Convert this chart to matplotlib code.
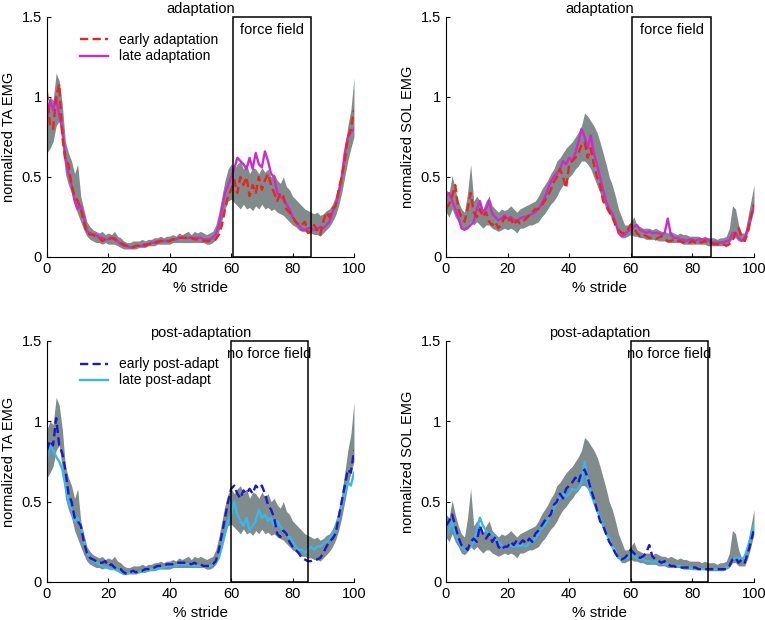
import numpy as np
import matplotlib
matplotlib.use("Agg")
import matplotlib.pyplot as plt
from matplotlib.patches import Rectangle

plt.rcParams["font.family"] = ["Liberation Sans", "DejaVu Sans"]

stride = np.arange(0, 101)

# baseline mean +/- sd band (same in adaptation and post-adaptation panels)
ta_lo = [0.65, 0.68, 0.72, 0.82, 0.85, 0.7, 0.52, 0.45, 0.4, 0.32,
         0.27, 0.22, 0.17, 0.13, 0.11, 0.1, 0.09, 0.09, 0.08, 0.09,
         0.08, 0.08, 0.08, 0.07, 0.06, 0.05, 0.05, 0.05, 0.05, 0.05,
         0.06, 0.06, 0.06, 0.07, 0.07, 0.07, 0.08, 0.08, 0.08, 0.08,
         0.08, 0.09, 0.09, 0.09, 0.09, 0.09, 0.09, 0.09, 0.09, 0.09,
         0.09, 0.09, 0.08, 0.08, 0.09, 0.11, 0.16, 0.23, 0.3, 0.35,
         0.36, 0.34, 0.32, 0.3, 0.33, 0.3, 0.31, 0.29, 0.32, 0.3,
         0.33, 0.3, 0.31, 0.29, 0.3, 0.28, 0.27, 0.26, 0.24, 0.22,
         0.2, 0.19, 0.17, 0.16, 0.16, 0.15, 0.15, 0.14, 0.14, 0.13,
         0.15, 0.17, 0.19, 0.22, 0.26, 0.32, 0.4, 0.5, 0.6, 0.68, 0.75]
ta_hi = [0.95, 1.0, 0.98, 1.15, 1.1, 0.95, 0.72, 0.65, 0.6, 0.52,
         0.58, 0.38, 0.3, 0.22, 0.19, 0.17, 0.16, 0.15, 0.16, 0.14,
         0.15, 0.14, 0.16, 0.13, 0.12, 0.1, 0.09, 0.09, 0.1, 0.1,
         0.1, 0.11, 0.1, 0.11, 0.11, 0.12, 0.12, 0.13, 0.12, 0.13,
         0.13, 0.14, 0.13, 0.15, 0.14, 0.15, 0.16, 0.14, 0.16, 0.15,
         0.16, 0.15, 0.14, 0.15, 0.16, 0.2, 0.28, 0.38, 0.48, 0.55,
         0.58, 0.55, 0.58, 0.6, 0.55, 0.58, 0.52, 0.56, 0.55, 0.52,
         0.56, 0.53, 0.55, 0.5, 0.52, 0.48, 0.46, 0.5, 0.44, 0.42,
         0.38, 0.36, 0.34, 0.32, 0.3, 0.29, 0.28, 0.27, 0.28, 0.26,
         0.27, 0.29, 0.3, 0.33, 0.38, 0.45, 0.55, 0.68, 0.82, 0.92, 1.12]
sol_lo = [0.28, 0.25, 0.3, 0.25, 0.22, 0.18, 0.17, 0.19, 0.22, 0.2,
          0.22, 0.2, 0.18, 0.2, 0.2, 0.18, 0.17, 0.16, 0.17, 0.18,
          0.17, 0.18, 0.17, 0.15, 0.18, 0.18, 0.19, 0.2, 0.2, 0.21,
          0.22, 0.25, 0.27, 0.3, 0.33, 0.35, 0.38, 0.42, 0.45, 0.47,
          0.5, 0.52, 0.55, 0.57, 0.6, 0.6, 0.58, 0.55, 0.5, 0.45,
          0.4, 0.35, 0.3, 0.27, 0.23, 0.2, 0.15, 0.12, 0.12, 0.13,
          0.14, 0.13, 0.13, 0.12, 0.12, 0.11, 0.11, 0.11, 0.11, 0.1,
          0.1, 0.1, 0.09, 0.09, 0.09, 0.09, 0.09, 0.08, 0.08, 0.08,
          0.08, 0.08, 0.08, 0.08, 0.08, 0.07, 0.07, 0.07, 0.07, 0.07,
          0.07, 0.08, 0.09, 0.12, 0.12, 0.1, 0.1, 0.1, 0.15, 0.22, 0.3]
sol_hi = [0.42, 0.4, 0.51, 0.42, 0.35, 0.3, 0.28, 0.4, 0.58, 0.35,
          0.38, 0.35, 0.3, 0.35, 0.38, 0.32, 0.3, 0.28, 0.3, 0.29,
          0.3, 0.32, 0.3, 0.28, 0.3, 0.31, 0.32, 0.33, 0.34, 0.35,
          0.38, 0.42, 0.45, 0.48, 0.52, 0.55, 0.6, 0.62, 0.65, 0.68,
          0.7, 0.72, 0.75, 0.78, 0.82, 0.9, 0.88, 0.85, 0.82, 0.78,
          0.72, 0.65, 0.58, 0.5, 0.45, 0.38, 0.3, 0.25, 0.2, 0.2,
          0.22, 0.25, 0.2, 0.19, 0.18, 0.18, 0.18, 0.17, 0.18, 0.17,
          0.16, 0.16, 0.15, 0.16, 0.15, 0.14, 0.15, 0.14, 0.14, 0.13,
          0.13, 0.13, 0.13, 0.12, 0.13, 0.12, 0.12, 0.12, 0.11, 0.12,
          0.12, 0.13, 0.18, 0.32, 0.3, 0.2, 0.15, 0.15, 0.25, 0.35, 0.45]

# adaptation
ta_early = [1.03, 0.82, 0.8, 1.0, 1.08, 0.75, 0.6, 0.58, 0.45, 0.38,
            0.35, 0.3, 0.22, 0.15, 0.14, 0.14, 0.12, 0.12, 0.1, 0.11,
            0.11, 0.12, 0.11, 0.1, 0.09, 0.08, 0.07, 0.06, 0.06, 0.07,
            0.07, 0.08, 0.07, 0.08, 0.08, 0.09, 0.09, 0.1, 0.1, 0.1,
            0.1, 0.11, 0.11, 0.12, 0.12, 0.12, 0.11, 0.12, 0.11, 0.11,
            0.11, 0.1, 0.1, 0.1, 0.1, 0.11, 0.14, 0.2, 0.3, 0.38,
            0.42, 0.48, 0.4, 0.5, 0.45, 0.5, 0.38, 0.45, 0.4, 0.5,
            0.42, 0.48, 0.52, 0.45, 0.4, 0.35, 0.4, 0.38, 0.3, 0.28,
            0.25, 0.22, 0.2, 0.2, 0.22, 0.15, 0.16, 0.2, 0.17, 0.14,
            0.22, 0.28, 0.25, 0.3, 0.32, 0.42, 0.5, 0.6, 0.75, 0.8, 0.92]
ta_late = [0.85, 0.98, 0.92, 1.0, 0.88, 0.8, 0.62, 0.52, 0.45, 0.35,
           0.3, 0.32, 0.25, 0.16, 0.15, 0.14, 0.14, 0.12, 0.12, 0.11,
           0.11, 0.12, 0.12, 0.1, 0.08, 0.07, 0.07, 0.06, 0.06, 0.07,
           0.07, 0.07, 0.08, 0.08, 0.09, 0.09, 0.1, 0.1, 0.1, 0.1,
           0.1, 0.11, 0.11, 0.12, 0.12, 0.12, 0.12, 0.12, 0.12, 0.12,
           0.12, 0.11, 0.11, 0.11, 0.12, 0.14, 0.2, 0.3, 0.4, 0.45,
           0.5, 0.55, 0.62, 0.6, 0.58, 0.55, 0.62, 0.55, 0.65, 0.58,
           0.56, 0.66, 0.6, 0.52, 0.5, 0.4, 0.38, 0.36, 0.33, 0.3,
           0.25, 0.22, 0.2, 0.17, 0.17, 0.18, 0.18, 0.17, 0.17, 0.19,
           0.18, 0.2, 0.22, 0.28, 0.32, 0.4, 0.5, 0.65, 0.75, 0.78, 0.8]
sol_early = [0.3, 0.33, 0.38, 0.45, 0.3, 0.25, 0.22, 0.3, 0.4, 0.28,
             0.25, 0.3, 0.25, 0.28, 0.22, 0.2, 0.22, 0.18, 0.2, 0.25,
             0.22, 0.24, 0.2, 0.23, 0.21, 0.22, 0.24, 0.26, 0.28, 0.3,
             0.3, 0.32, 0.35, 0.38, 0.42, 0.47, 0.5, 0.55, 0.5, 0.43,
             0.58, 0.6, 0.62, 0.65, 0.7, 0.72, 0.62, 0.68, 0.58, 0.5,
             0.45, 0.35, 0.32, 0.28, 0.25, 0.2, 0.17, 0.15, 0.15, 0.17,
             0.2, 0.18, 0.15, 0.13, 0.14, 0.13, 0.12, 0.12, 0.11, 0.12,
             0.13, 0.11, 0.1, 0.1, 0.11, 0.1, 0.1, 0.09, 0.1, 0.09,
             0.1, 0.09, 0.1, 0.09, 0.1, 0.09, 0.09, 0.08, 0.08, 0.08,
             0.08, 0.07, 0.08, 0.1, 0.15, 0.18, 0.12, 0.1, 0.15, 0.25, 0.33]
sol_late = [0.38, 0.4, 0.35, 0.3, 0.25, 0.18, 0.17, 0.18, 0.2, 0.22,
            0.3, 0.35, 0.28, 0.3, 0.35, 0.27, 0.25, 0.23, 0.24, 0.26,
            0.24, 0.25, 0.23, 0.22, 0.24, 0.25, 0.25, 0.26, 0.27, 0.28,
            0.3, 0.33, 0.37, 0.42, 0.47, 0.5, 0.52, 0.55, 0.6, 0.58,
            0.62, 0.6, 0.65, 0.72, 0.8, 0.75, 0.68, 0.76, 0.65, 0.58,
            0.5, 0.42, 0.35, 0.3, 0.27, 0.22, 0.15, 0.13, 0.14, 0.16,
            0.17, 0.19, 0.2, 0.17, 0.16, 0.15, 0.16, 0.15, 0.15, 0.15,
            0.14, 0.15, 0.24, 0.14, 0.12, 0.12, 0.11, 0.11, 0.1, 0.11,
            0.11, 0.1, 0.11, 0.11, 0.11, 0.11, 0.09, 0.09, 0.09, 0.09,
            0.09, 0.1, 0.1, 0.15, 0.15, 0.12, 0.1, 0.12, 0.18, 0.25, 0.32]

# post-adaptation
ta_post_early = [0.82, 0.88, 0.85, 1.02, 0.85, 0.8, 0.7, 0.55, 0.5, 0.4,
                 0.38, 0.35, 0.25, 0.18, 0.15, 0.14, 0.13, 0.12, 0.12, 0.13,
                 0.1, 0.11, 0.09, 0.08, 0.08, 0.06, 0.05, 0.06, 0.07, 0.06,
                 0.07, 0.07, 0.08, 0.08, 0.09, 0.09, 0.1, 0.1, 0.1, 0.11,
                 0.11, 0.11, 0.12, 0.12, 0.12, 0.12, 0.12, 0.11, 0.12, 0.11,
                 0.11, 0.1, 0.1, 0.1, 0.11, 0.13, 0.2, 0.3, 0.4, 0.5,
                 0.58, 0.6, 0.55, 0.52, 0.57, 0.55, 0.58, 0.55, 0.6, 0.58,
                 0.6, 0.55, 0.48, 0.45, 0.4, 0.3, 0.28, 0.32, 0.3, 0.25,
                 0.22, 0.2, 0.18, 0.15, 0.14, 0.13, 0.13, 0.14, 0.14, 0.15,
                 0.18, 0.22, 0.25, 0.27, 0.3, 0.4, 0.5, 0.6, 0.7, 0.68, 0.82]
ta_post_late = [0.75, 0.85, 0.82, 0.78, 0.75, 0.7, 0.6, 0.5, 0.45, 0.38,
                0.4, 0.35, 0.25, 0.18, 0.15, 0.13, 0.12, 0.11, 0.1, 0.09,
                0.09, 0.08, 0.08, 0.07, 0.06, 0.05, 0.05, 0.06, 0.06, 0.06,
                0.06, 0.07, 0.07, 0.07, 0.08, 0.08, 0.08, 0.09, 0.09, 0.1,
                0.1, 0.1, 0.1, 0.11, 0.11, 0.11, 0.11, 0.1, 0.1, 0.1,
                0.1, 0.1, 0.1, 0.1, 0.11, 0.12, 0.15, 0.22, 0.3, 0.38,
                0.42, 0.5, 0.42, 0.38, 0.35, 0.4, 0.32, 0.35, 0.38, 0.45,
                0.4, 0.42, 0.38, 0.4, 0.35, 0.38, 0.35, 0.32, 0.3, 0.28,
                0.25, 0.22, 0.2, 0.2, 0.18, 0.2, 0.22, 0.2, 0.22, 0.22,
                0.24, 0.25, 0.27, 0.3, 0.33, 0.4, 0.48, 0.55, 0.62, 0.6, 0.68]
sol_post_early = [0.35, 0.38, 0.42, 0.35, 0.28, 0.23, 0.22, 0.2, 0.25, 0.27,
                  0.25, 0.35, 0.3, 0.27, 0.3, 0.25, 0.28, 0.22, 0.2, 0.22,
                  0.22, 0.25, 0.23, 0.26, 0.24, 0.26, 0.24, 0.27, 0.25, 0.3,
                  0.32, 0.35, 0.38, 0.4, 0.42, 0.48, 0.5, 0.55, 0.52, 0.58,
                  0.6, 0.62, 0.65, 0.62, 0.68, 0.7, 0.65, 0.58, 0.52, 0.45,
                  0.38, 0.35, 0.3, 0.25, 0.22, 0.18, 0.15, 0.14, 0.15, 0.17,
                  0.2, 0.18, 0.16, 0.15, 0.16, 0.18, 0.23, 0.16, 0.14, 0.13,
                  0.12, 0.13, 0.11, 0.1, 0.1, 0.09, 0.09, 0.09, 0.09, 0.09,
                  0.09, 0.09, 0.08, 0.08, 0.08, 0.08, 0.08, 0.08, 0.08, 0.08,
                  0.08, 0.08, 0.1, 0.14, 0.15, 0.12, 0.14, 0.12, 0.18, 0.25, 0.33]
sol_post_late = [0.28, 0.32, 0.38, 0.3, 0.25, 0.22, 0.2, 0.2, 0.22, 0.25,
                 0.32, 0.4, 0.35, 0.32, 0.3, 0.3, 0.27, 0.25, 0.23, 0.22,
                 0.22, 0.23, 0.22, 0.23, 0.22, 0.23, 0.22, 0.24, 0.25, 0.27,
                 0.3, 0.33, 0.35, 0.38, 0.42, 0.45, 0.5, 0.52, 0.55, 0.53,
                 0.55, 0.58, 0.57, 0.58, 0.62, 0.75, 0.62, 0.55, 0.5, 0.45,
                 0.4, 0.35, 0.3, 0.27, 0.22, 0.18, 0.15, 0.14, 0.15, 0.15,
                 0.17, 0.16, 0.15, 0.14, 0.14, 0.13, 0.13, 0.12, 0.13, 0.12,
                 0.12, 0.11, 0.11, 0.1, 0.1, 0.1, 0.1, 0.09, 0.09, 0.09,
                 0.08, 0.08, 0.08, 0.08, 0.08, 0.08, 0.08, 0.08, 0.08, 0.08,
                 0.08, 0.09, 0.1, 0.14, 0.15, 0.15, 0.14, 0.16, 0.22, 0.28, 0.36]

GREY = "#808b8b"
RED = "#e8261e"
MAGENTA = "#cc2ccc"
BLUE = "#1a1acc"
LIGHTBLUE = "#3bb6e8"


def draw_panel(ax, lo, hi, early, late, c_early, c_late, lab_early, lab_late,
               title, ylabel, box, box_text, legend=False):
    ax.fill_between(stride, lo, hi, color=GREY, linewidth=0)
    ax.plot(stride, late, color=c_late, lw=1.7, label=lab_late)
    ax.plot(stride, early, color=c_early, lw=1.7, ls=(0, (3.5, 1.8)), label=lab_early)
    ax.add_patch(Rectangle((box[0], 0), box[1] - box[0], 1.5, fill=False,
                           edgecolor="black", lw=1.1, clip_on=False, zorder=5))
    ax.text((box[0] + box[1]) / 2, 1.46, box_text, ha="center", va="top", fontsize=10.5)
    ax.set_xlim(0, 100)
    ax.set_ylim(0, 1.5)
    ax.set_xticks([0, 20, 40, 60, 80, 100])
    ax.set_yticks([0, 0.5, 1, 1.5])
    ax.set_yticklabels(["0", "0.5", "1", "1.5"])
    ax.spines["top"].set_visible(False)
    ax.spines["right"].set_visible(False)
    ax.tick_params(direction="in", length=3, labelsize=10.5)
    ax.set_title(title, fontsize=10.5, pad=3)
    ax.set_xlabel("% stride", fontsize=11, labelpad=4)
    ax.set_ylabel(ylabel, fontsize=10.5, labelpad=4)
    if legend:
        h, l = ax.get_legend_handles_labels()
        ax.legend(h[::-1], l[::-1], loc="upper left", bbox_to_anchor=(0.09, 0.955),
                  frameon=False, fontsize=10, handlelength=2.0, handletextpad=0.8,
                  labelspacing=0.15, borderaxespad=0.0)


fig = plt.figure(figsize=(7.65, 6.2), dpi=100)
ax1 = fig.add_axes([0.0614, 0.5855, 0.4013, 0.3871])
ax2 = fig.add_axes([0.5830, 0.5855, 0.4026, 0.3871])
ax3 = fig.add_axes([0.0614, 0.0613, 0.4013, 0.3887])
ax4 = fig.add_axes([0.5830, 0.0613, 0.4026, 0.3887])

draw_panel(ax1, ta_lo, ta_hi, ta_early, ta_late, RED, MAGENTA,
           "early adaptation", "late adaptation", "adaptation",
           "normalized TA EMG", (60.5, 86), "force field", legend=True)
draw_panel(ax2, sol_lo, sol_hi, sol_early, sol_late, RED, MAGENTA,
           "early adaptation", "late adaptation", "adaptation",
           "normalized SOL EMG", (60.5, 86), "force field")
draw_panel(ax3, ta_lo, ta_hi, ta_post_early, ta_post_late, BLUE, LIGHTBLUE,
           "early post-adapt", "late post-adapt", "post-adaptation",
           "normalized TA EMG", (60, 85), "no force field", legend=True)
draw_panel(ax4, sol_lo, sol_hi, sol_post_early, sol_post_late, BLUE, LIGHTBLUE,
           "early post-adapt", "late post-adapt", "post-adaptation",
           "normalized SOL EMG", (60, 85), "no force field")

fig.savefig("out.png", dpi=100)
